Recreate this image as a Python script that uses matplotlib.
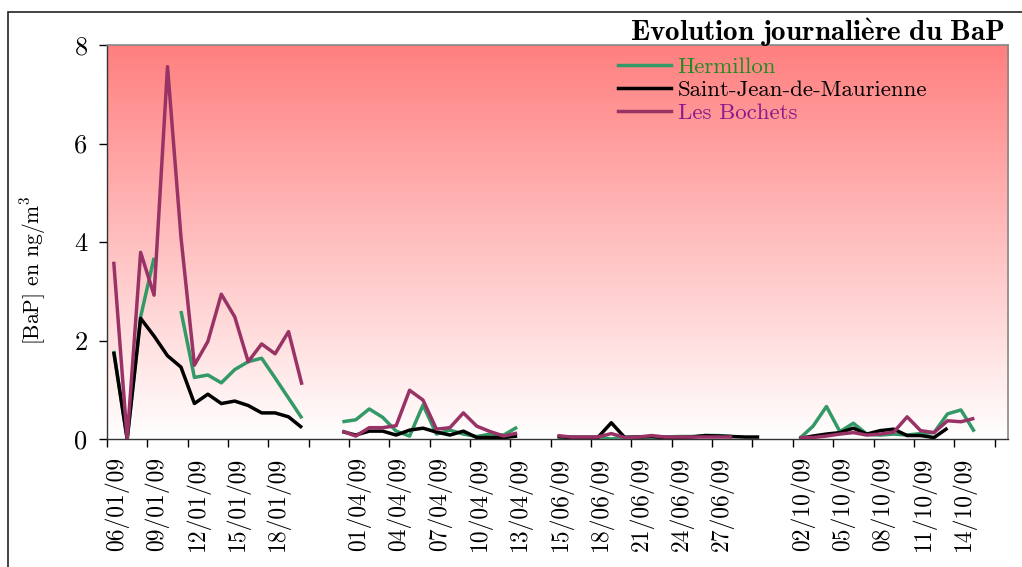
import numpy as np
import matplotlib
matplotlib.use("Agg")
import matplotlib.pyplot as plt
from matplotlib.lines import Line2D
from matplotlib.patches import Rectangle
from matplotlib.transforms import ScaledTranslation

plt.rcParams['mathtext.fontset'] = 'cm'

N = None
# 67 category slots (blank strings are separators between campaigns)
categories = (
    ['06/01/09', '07/01/09', '08/01/09', '09/01/09', '10/01/09', '11/01/09', '12/01/09',
     '13/01/09', '14/01/09', '15/01/09', '16/01/09', '17/01/09', '18/01/09', '19/01/09',
     '20/01/09', '', '',
     '31/03/09', '01/04/09', '02/04/09', '03/04/09', '04/04/09', '05/04/09', '06/04/09',
     '07/04/09', '08/04/09', '09/04/09', '10/04/09', '11/04/09', '12/04/09', '13/04/09',
     '', '',
     '15/06/09', '16/06/09', '17/06/09', '18/06/09', '19/06/09', '20/06/09', '21/06/09',
     '22/06/09', '23/06/09', '24/06/09', '25/06/09', '26/06/09', '27/06/09', '28/06/09',
     '29/06/09', '', '', '',
     '02/10/09', '03/10/09', '04/10/09', '05/10/09', '06/10/09', '07/10/09', '08/10/09',
     '09/10/09', '10/10/09', '11/10/09', '12/10/09', '13/10/09', '14/10/09', '15/10/09',
     '', '']
)

hermillon = (
    [1.79, 0.0, 2.48, 3.68, N, 2.60, 1.25, 1.30, 1.14, 1.41, 1.57, 1.64, 1.24, 0.83, 0.42,
     N, N,
     0.35, 0.39, 0.61, 0.44, 0.16, 0.06, 0.69, 0.10, 0.18, 0.10, 0.05, 0.10, 0.08, 0.24,
     N, N,
     0.04, 0.04, 0.04, 0.04, 0.00, 0.04, 0.04, 0.04, 0.04, 0.05, 0.05, 0.07, 0.07, 0.05,
     N, N, N, N,
     0.01, 0.26, 0.66, 0.15, 0.32, 0.10, 0.08, 0.10, 0.08, 0.11, 0.13, 0.51, 0.59, 0.15,
     N, N]
)

saint_jean = (
    [1.77, 0.0, 2.45, 2.09, 1.69, 1.46, 0.72, 0.91, 0.72, 0.77, 0.68, 0.53, 0.53, 0.45, 0.23,
     N, N,
     0.15, 0.08, 0.16, 0.16, 0.08, 0.18, 0.22, 0.14, 0.08, 0.16, 0.03, 0.03, 0.03, 0.06,
     N, N,
     0.05, 0.03, 0.03, 0.03, 0.33, 0.03, 0.04, 0.05, 0.03, 0.03, 0.04, 0.07, 0.06, 0.05,
     0.04, 0.04, N, N,
     0.01, 0.06, 0.10, 0.13, 0.22, 0.10, 0.17, 0.20, 0.07, 0.07, 0.03, 0.22,
     N, N, N, N]
)

les_bochets = (
    [3.60, 0.0, 3.79, 2.92, 7.56, 4.10, 1.50, 1.98, 2.94, 2.48, 1.57, 1.93, 1.73, 2.18, 1.10,
     N, N,
     0.16, 0.06, 0.23, 0.23, 0.27, 0.99, 0.79, 0.20, 0.23, 0.53, 0.26, 0.15, 0.06, 0.12,
     N, N,
     0.07, 0.04, 0.04, 0.04, 0.11, 0.03, 0.04, 0.07, 0.04, 0.04, 0.04, 0.04, 0.04, 0.04,
     N, N, N, N,
     0.03, 0.03, 0.06, 0.10, 0.13, 0.08, 0.10, 0.14, 0.45, 0.17, 0.13, 0.37, 0.35, 0.42,
     N, N]
)

series_names = ['Hermillon', 'Saint-Jean-de-Maurienne', 'Les Bochets']
line_colors = ['#339966', '#000000', '#993366']
text_colors = ['#228B22', '#000000', '#8B1A8B']
y_ticks = [0, 2, 4, 6, 8]

def arr(v):
    return np.array([np.nan if x is None else x for x in v], dtype=float)

W, H = 1022, 567
fig = plt.figure(figsize=(W / 100, H / 100), dpi=100)
fig.patch.set_facecolor('white')

# outer frame
fig.add_artist(Rectangle((8 / W, -0.1), 1.2, 1 - 12 / H + 0.1, transform=fig.transFigure,
                         fill=False, edgecolor='#222222', linewidth=1.2))

ax = fig.add_axes([107 / W, 1 - 439 / H, (1008 - 107) / W, (439 - 45) / H])
n = len(categories)
x = np.arange(n)
ax.set_xlim(-0.5, n - 0.5)
ax.set_ylim(0, 8)

# gradient background
grad = np.linspace(0, 1, 256).reshape(-1, 1)
top = np.array([1.0, 0.50, 0.50])
bot = np.array([1.0, 1.0, 1.0])
img = bot[None, None, :] * (1 - grad[:, :, None]) + top[None, None, :] * grad[:, :, None]
ax.imshow(img, extent=[0, 1, 0, 1], transform=ax.transAxes, origin='lower',
          aspect='auto', zorder=0)

series = [hermillon, saint_jean, les_bochets]
for vals, c in zip(series, line_colors):
    ax.plot(x, arr(vals), color=c, linewidth=2.5, solid_joinstyle='round',
            solid_capstyle='butt', zorder=3)

cm = 'cmr10'
# y axis
ax.set_yticks(y_ticks)
ax.set_yticklabels([str(t) for t in y_ticks], fontfamily=cm, fontsize=19)
ax.tick_params(axis='y', direction='out', length=6, width=1, pad=8)

# x axis: tick marks at category boundaries every 3, labels every 3 categories
ax.set_xticks(np.arange(-0.5, n, 3))
ax.set_xticklabels([])
ax.tick_params(axis='x', which='major', direction='out', length=6, width=1)
lab_pos = np.arange(0, n, 3)
ax.set_xticks(lab_pos, minor=True)
ax.set_xticklabels([categories[i] for i in lab_pos], minor=True, rotation=90,
                   fontfamily=cm, fontsize=17)
ax.tick_params(axis='x', which='minor', length=0, pad=13)
off = ScaledTranslation(3 / 100, 0, fig.dpi_scale_trans)
for lbl in ax.get_xticklabels(minor=True):
    lbl.set_transform(lbl.get_transform() + off)

for s in ['top', 'right']:
    ax.spines[s].set_color('#888888')
    ax.spines[s].set_linewidth(1.2)
for s in ['left', 'bottom']:
    ax.spines[s].set_color('#333333')
    ax.spines[s].set_linewidth(1.0)

fig.text(33 / W, 1 - 270 / H, '[BaP] en ng/m$^{3}$', rotation=90, ha='center', va='center',
         fontfamily=cm, fontsize=15.5)

fig.text(1005 / W, 1 - 33 / H, r'$\mathbf{Evolution\ journali\grave{e}re\ du\ BaP}$',
         ha='right', va='center', fontsize=21)

handles = [Line2D([0], [0], color=c, linewidth=2.5) for c in line_colors]
leg = ax.legend(handles, series_names, loc='upper left',
                bbox_to_anchor=(618 / W, 1 - 57 / H), bbox_transform=fig.transFigure,
                frameon=False, prop={'family': cm, 'size': 16.5}, handlelength=2.3,
                handletextpad=0.3, labelspacing=0.12, borderaxespad=0, borderpad=0)
for t, c in zip(leg.get_texts(), text_colors):
    t.set_color(c)

fig.savefig('out.png', dpi=100)
